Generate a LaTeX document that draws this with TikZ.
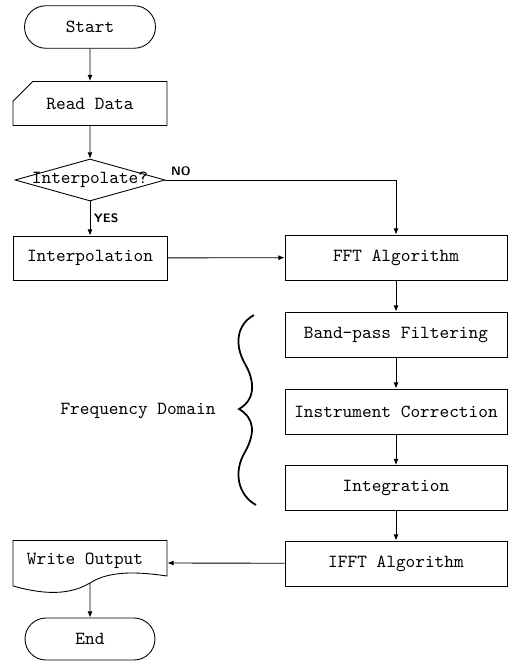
\documentclass[tikz,border=0pt]{standalone}
\usepackage{tikz}
\usetikzlibrary{shapes.geometric,shapes.misc,arrows.meta}

\begin{document}
\begin{tikzpicture}[x=0.02cm,y=-0.02cm,
        line width=0.5pt,
        font=\fontsize{10.5}{12}\selectfont\ttfamily,
        every node/.style={inner sep=0pt},
        term/.style={draw,rounded rectangle,minimum width=2.62cm,minimum height=0.85cm},
        proc/.style={draw,rectangle,minimum width=3.08cm,minimum height=0.88cm},
        wide/.style={proc,minimum width=4.44cm,minimum height=0.9cm},
        flow/.style={-{Latex[length=3.5pt,width=2.8pt]}},
        answer/.style={font=\scriptsize\sffamily\bfseries}]
    \useasboundingbox (0,0) rectangle (514,663);

    % left column
    \node[term] (start) at (90,27) {Start};
    \node[proc,chamfered rectangle,chamfered rectangle corners=north west,
          chamfered rectangle xsep=0.4cm,chamfered rectangle ysep=0.28cm] (read) at (90,103.5) {Read Data};
    \node[draw,diamond,minimum width=3cm,minimum height=0.84cm,
          label=center:{Interpolate?}] (ask) at (90,180) {};
    \node[proc] (interp) at (90,258) {Interpolation};
    \node[minimum width=3.08cm,minimum height=0.9cm] (wout) at (90,563) {};
    \node at (85,561) {Write Output};
    \node[term,minimum width=2.6cm,minimum height=0.84cm] (end) at (90,639) {End};

    % right column
    \node[wide] (fft) at (396,257.5) {FFT Algorithm};
    \node[wide] (band) at (396,334.5) {Band-pass Filtering};
    \node[wide] (instr) at (396,411.5) {Instrument Correction};
    \node[wide] (integ) at (396,488) {Integration};
    \node[wide] (ifft) at (396,563.5) {IFFT Algorithm};

    % document outline with wavy bottom
    \draw (13,540.5) -- (167,540.5) -- (167,576)
        .. controls (140,572) and (110,570) .. (90,583)
        .. controls (65,598) and (35,592) .. (13,586) -- cycle;
    \coordinate (woutbot) at (90,583);

    \node at (138,411) {Frequency Domain};
    \draw[line width=1pt] (254,315)
        .. controls (236,325) and (235,345) .. (244,362)
        .. controls (256,382) and (255,400) .. (239,409)
        .. controls (254,418) and (256,432) .. (245,452)
        .. controls (233,472) and (238,495) .. (256,505);

    \draw[flow] (start) -- (read);
    \draw[flow] (read) -- (ask);
    \draw[flow] (ask) -- node[answer,anchor=west,xshift=2pt] {YES} (interp);
    \draw[flow] (ask.east) -| (fft.north);
    \node[answer,anchor=south west] at ([xshift=3pt,yshift=2pt]ask.east) {NO};
    \draw[flow] (interp) -- (fft);
    \draw[flow] (fft) -- (band);
    \draw[flow] (band) -- (instr);
    \draw[flow] (instr) -- (integ);
    \draw[flow] (integ) -- (ifft);
    \draw[flow] (ifft) -- (wout.east);
    \draw[flow] (woutbot) -- (end);
\end{tikzpicture}
\end{document}
